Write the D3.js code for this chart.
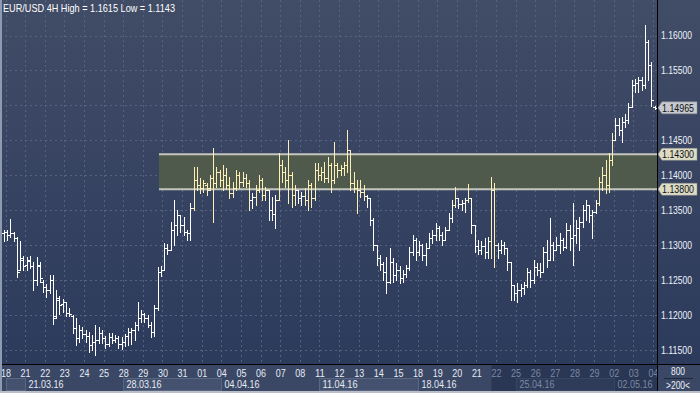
<!DOCTYPE html>
<html>
<head>
<meta charset="utf-8">
<title>EUR/USD 4H</title>
<script src="https://cdn.jsdelivr.net/npm/d3@7"></script>
<style>
  body { margin: 0; background: #2e3b5b; }
  svg { display: block; }
  .lbl { font-family: "Liberation Sans Narrow", "Arial Narrow", "Liberation Sans", Arial, sans-serif; font-size: 11px; }
</style>
</head>
<body>
<div id="chart"></div>
<script>
// EUR/USD 4H bars, 17.03.16 (last bar) .. 04.05.16 (first bar)
var opens = [
  1.1318,1.1319,1.1315,1.1318,1.1310,1.1265,1.1279,1.1272,1.1278,1.1270,
  1.1250,1.1270,1.1248,1.1240,1.1236,1.1250,1.1199,1.1222,1.1216,1.1218,
  1.1203,1.1199,1.1182,1.1167,1.1179,1.1173,1.1170,1.1157,1.1162,1.1165,
  1.1175,1.1167,1.1159,1.1169,1.1165,1.1167,1.1159,1.1162,1.1170,1.1176,
  1.1179,1.1186,1.1196,1.1202,1.1196,1.1186,1.1176,1.1210,1.1262,1.1265,
  1.1296,1.1293,1.1322,1.1329,1.1343,1.1329,1.1319,1.1318,1.1353,1.1393,
  1.1386,1.1382,1.1386,1.1382,1.1396,1.1389,1.1405,1.1393,1.1401,1.1386,
  1.1375,1.1382,1.1401,1.1391,1.1396,1.1389,1.1365,1.1369,1.1379,1.1393,
  1.1372,1.1379,1.1351,1.1345,1.1365,1.1415,1.1405,1.1393,1.1401,1.1372,
  1.1379,1.1368,1.1371,1.1365,1.1386,1.1368,1.1408,1.1401,1.1405,1.1396,
  1.1415,1.1393,1.1415,1.1408,1.1411,1.1415,1.1436,1.1389,1.1382,1.1379,
  1.1376,1.1371,1.1368,1.1336,1.1300,1.1282,1.1273,1.1262,1.1248,1.1276,
  1.1258,1.1265,1.1253,1.1259,1.1268,1.1290,1.1308,1.1290,1.1300,1.1286,
  1.1296,1.1310,1.1315,1.1325,1.1315,1.1308,1.1322,1.1339,1.1358,1.1368,
  1.1359,1.1361,1.1365,1.1368,1.1329,1.1299,1.1293,1.1299,1.1290,1.1306,
  1.1379,1.1300,1.1293,1.1300,1.1296,1.1276,1.1243,1.1232,1.1236,1.1239,
  1.1243,1.1262,1.1250,1.1269,1.1265,1.1262,1.1290,1.1279,1.1300,1.1293,
  1.1300,1.1308,1.1298,1.1322,1.1310,1.1315,1.1325,1.1333,1.1351,1.1358,
  1.1343,1.1348,1.1361,1.1391,1.1401,1.1386,1.1422,1.1451,1.1472,1.1465,
  1.1476,1.1479,1.1497,1.1529,1.1532,1.1537,1.1529,1.1591,1.1558,1.1497
];
var highs = [
  1.1322,1.1322,1.1338,1.1319,1.1312,1.1306,1.1285,1.1283,1.1285,1.1276,
  1.1283,1.1276,1.1250,1.1245,1.1258,1.1258,1.1236,1.1227,1.1223,1.1219,
  1.1210,1.1200,1.1196,1.1186,1.1183,1.1179,1.1176,1.1172,1.1186,1.1183,
  1.1179,1.1170,1.1175,1.1175,1.1172,1.1170,1.1169,1.1173,1.1182,1.1182,
  1.1190,1.1219,1.1207,1.1203,1.1200,1.1190,1.1215,1.1269,1.1270,1.1303,
  1.1302,1.1333,1.1365,1.1351,1.1343,1.1341,1.1322,1.1361,1.1412,1.1412,
  1.1396,1.1393,1.1389,1.1401,1.1439,1.1412,1.1408,1.1414,1.1411,1.1398,
  1.1391,1.1408,1.1405,1.1404,1.1402,1.1393,1.1375,1.1386,1.1401,1.1396,
  1.1383,1.1379,1.1369,1.1372,1.1432,1.1422,1.1412,1.1451,1.1404,1.1386,
  1.1379,1.1376,1.1382,1.1393,1.1389,1.1418,1.1418,1.1412,1.1419,1.1426,
  1.1418,1.1448,1.1418,1.1415,1.1419,1.1465,1.1436,1.1404,1.1393,1.1393,
  1.1386,1.1372,1.1368,1.1339,1.1300,1.1286,1.1276,1.1283,1.1296,1.1282,
  1.1275,1.1270,1.1265,1.1272,1.1298,1.1315,1.1310,1.1306,1.1302,1.1303,
  1.1318,1.1322,1.1332,1.1328,1.1319,1.1326,1.1346,1.1365,1.1383,1.1368,
  1.1365,1.1368,1.1388,1.1368,1.1329,1.1308,1.1306,1.1310,1.1312,1.1398,
  1.1389,1.1303,1.1308,1.1305,1.1296,1.1276,1.1243,1.1246,1.1245,1.1248,
  1.1268,1.1265,1.1279,1.1275,1.1275,1.1298,1.1308,1.1339,1.1305,1.1312,
  1.1318,1.1310,1.1332,1.1329,1.1361,1.1336,1.1341,1.1358,1.1365,1.1358,
  1.1351,1.1365,1.1398,1.1412,1.1422,1.1432,1.1461,1.1482,1.1482,1.1484,
  1.1487,1.1504,1.1537,1.1538,1.1541,1.1541,1.1615,1.1594,1.1562,1.1499
];
var lows = [
  1.1306,1.1308,1.1312,1.1306,1.1255,1.1265,1.1265,1.1265,1.1268,1.1236,
  1.1243,1.1248,1.1233,1.1226,1.1232,1.1187,1.1196,1.1202,1.1205,1.1199,
  1.1199,1.1175,1.1157,1.1162,1.1167,1.1162,1.1147,1.1150,1.1143,1.1160,
  1.1160,1.1153,1.1156,1.1160,1.1162,1.1153,1.1152,1.1156,1.1157,1.1159,
  1.1165,1.1179,1.1190,1.1190,1.1183,1.1169,1.1170,1.1207,1.1256,1.1265,
  1.1288,1.1293,1.1300,1.1315,1.1319,1.1315,1.1308,1.1308,1.1351,1.1379,
  1.1375,1.1376,1.1372,1.1379,1.1333,1.1383,1.1385,1.1379,1.1381,1.1368,
  1.1369,1.1379,1.1382,1.1385,1.1383,1.1351,1.1353,1.1358,1.1376,1.1365,
  1.1365,1.1336,1.1336,1.1325,1.1365,1.1391,1.1383,1.1361,1.1355,1.1358,
  1.1361,1.1358,1.1358,1.1351,1.1355,1.1365,1.1393,1.1393,1.1391,1.1391,
  1.1376,1.1389,1.1398,1.1401,1.1401,1.1405,1.1379,1.1376,1.1346,1.1369,
  1.1365,1.1355,1.1329,1.1293,1.1272,1.1265,1.1250,1.1232,1.1246,1.1248,
  1.1250,1.1246,1.1248,1.1255,1.1265,1.1286,1.1279,1.1286,1.1279,1.1272,
  1.1296,1.1303,1.1308,1.1308,1.1300,1.1308,1.1322,1.1333,1.1355,1.1353,
  1.1351,1.1348,1.1362,1.1318,1.1290,1.1288,1.1288,1.1282,1.1282,1.1282,
  1.1269,1.1282,1.1289,1.1288,1.1265,1.1222,1.1222,1.1218,1.1227,1.1230,
  1.1240,1.1240,1.1246,1.1258,1.1255,1.1262,1.1269,1.1279,1.1279,1.1293,
  1.1289,1.1293,1.1296,1.1293,1.1272,1.1303,1.1293,1.1326,1.1336,1.1333,
  1.1310,1.1346,1.1358,1.1379,1.1375,1.1376,1.1415,1.1451,1.1458,1.1448,
  1.1469,1.1475,1.1497,1.1519,1.1519,1.1522,1.1525,1.1537,1.1499,1.1495
];
var closes = [
  1.1319,1.1315,1.1318,1.1310,1.1262,1.1282,1.1270,1.1279,1.1270,1.1250,
  1.1272,1.1253,1.1240,1.1236,1.1250,1.1196,1.1225,1.1215,1.1218,1.1203,
  1.1202,1.1182,1.1167,1.1179,1.1173,1.1170,1.1157,1.1162,1.1165,1.1175,
  1.1167,1.1159,1.1169,1.1165,1.1167,1.1159,1.1162,1.1170,1.1176,1.1179,
  1.1186,1.1196,1.1202,1.1196,1.1186,1.1176,1.1210,1.1262,1.1265,1.1296,
  1.1293,1.1322,1.1329,1.1343,1.1329,1.1319,1.1318,1.1353,1.1393,1.1386,
  1.1382,1.1389,1.1379,1.1396,1.1389,1.1405,1.1393,1.1401,1.1386,1.1375,
  1.1382,1.1401,1.1391,1.1396,1.1389,1.1365,1.1369,1.1379,1.1393,1.1372,
  1.1379,1.1351,1.1345,1.1365,1.1415,1.1405,1.1393,1.1401,1.1372,1.1379,
  1.1368,1.1371,1.1365,1.1386,1.1368,1.1408,1.1401,1.1405,1.1396,1.1415,
  1.1393,1.1415,1.1408,1.1411,1.1415,1.1436,1.1389,1.1382,1.1379,1.1376,
  1.1371,1.1368,1.1336,1.1300,1.1282,1.1273,1.1262,1.1248,1.1276,1.1258,
  1.1265,1.1253,1.1259,1.1268,1.1290,1.1308,1.1290,1.1300,1.1286,1.1296,
  1.1310,1.1315,1.1325,1.1315,1.1308,1.1322,1.1339,1.1358,1.1368,1.1359,
  1.1361,1.1365,1.1368,1.1329,1.1299,1.1293,1.1299,1.1290,1.1306,1.1379,
  1.1300,1.1293,1.1300,1.1296,1.1276,1.1243,1.1232,1.1236,1.1239,1.1243,
  1.1262,1.1250,1.1269,1.1265,1.1262,1.1290,1.1279,1.1300,1.1293,1.1300,
  1.1308,1.1298,1.1322,1.1310,1.1315,1.1325,1.1333,1.1351,1.1358,1.1343,
  1.1348,1.1361,1.1391,1.1401,1.1386,1.1422,1.1451,1.1472,1.1465,1.1476,
  1.1479,1.1497,1.1529,1.1532,1.1537,1.1529,1.1591,1.1558,1.1508,1.14965
];

var dayLabels = ["18","21","22","23","24","25","28","29","30","31","01",
                 "04","05","06","07","08","11","12","13","14","15",
                 "18","19","20","21","22","25","26","27","28","29","02","03","04"];
var weekLabels = ["", "21.03.16", "28.03.16", "04.04.16", "11.04.16", "18.04.16", "25.04.16", "02.05.16"];
var weekStartDay = [0, 1, 6, 11, 16, 21, 26, 31];   // index into dayLabels
var priceTicks = [1.115, 1.12, 1.125, 1.13, 1.135, 1.14, 1.145, 1.15, 1.155, 1.16];
var zoneHigh = 1.143, zoneLow = 1.138, zoneStartBar = 48;
var lastPrice = 1.14965;

var W = 700, H = 393, plotR = 657, plotB = 364;
var barsPerDay = 6, dimFromDay = 25;

// squeeze a text to the width the terminal's narrow font gives it
function fit(sel, w) {
  sel.attr("textLength", w).attr("lengthAdjust", "spacingAndGlyphs");
}

var svg = d3.select("#chart").append("svg").attr("width", W).attr("height", H);

var grad = svg.append("defs").append("linearGradient").attr("id", "bg")
    .attr("x1", 0).attr("y1", 0).attr("x2", 0).attr("y2", 1);
grad.append("stop").attr("offset", "0%").attr("stop-color", "#414c66");
grad.append("stop").attr("offset", "100%").attr("stop-color", "#2c3a5c");

svg.append("rect").attr("width", W).attr("height", plotB).attr("fill", "url(#bg)");

// one slot per 4H bar, day boundaries every 6 slots
var x = d3.scaleLinear().domain([0, barsPerDay * dayLabels.length])
    .range([5.5, 5.5 + 19.62 * dayLabels.length]);
var y = d3.scaleLinear().domain([1.115, 1.16]).range([350, 35.5]);
function slotOf(i) { return i - 1; }           // first bar belongs to 17.03
function barX(i) { return Math.round(x(slotOf(i) + 0.5)) + 0.5; }
function py(v) { return Math.round(y(v)) + 0.5; }
function dayX(d) { return Math.round(x(d * barsPerDay)) + 0.5; }

// grid
var grid = svg.append("g").attr("stroke", "#56637f").attr("stroke-dasharray", "2,3")
    .attr("shape-rendering", "crispEdges");
grid.selectAll(".hg").data(priceTicks).enter().append("line")
    .attr("x1", 0).attr("x2", plotR).attr("y1", function(d) { return py(d); }).attr("y2", function(d) { return py(d); });
grid.selectAll(".vg").data(d3.range(dayLabels.length)).enter().append("line")
    .attr("x1", dayX).attr("x2", dayX).attr("y1", 0).attr("y2", plotB);

// support/resistance zone
var zx0 = Math.round(x(slotOf(zoneStartBar)));
svg.append("rect").attr("x", zx0).attr("y", y(zoneHigh)).attr("width", plotR - zx0)
    .attr("height", y(zoneLow) - y(zoneHigh)).attr("fill", "#505a4c");
svg.selectAll(".zl").data([zoneHigh, zoneLow]).enter().append("line")
    .attr("x1", zx0).attr("x2", plotR).attr("y1", function(d) { return y(d); }).attr("y2", function(d) { return y(d); })
    .attr("stroke", "#c3c6bc").attr("stroke-width", 2);

// OHLC bars
var bars = d3.range(opens.length);
svg.append("g").selectAll("path").data(bars).enter().append("path")
    .attr("d", function(i) {
      var cx = barX(i);
      return "M" + cx + "," + (Math.round(y(highs[i]))) + "V" + (Math.round(y(lows[i])) + 1) +
             "M" + (cx - 2.5) + "," + py(opens[i]) + "H" + cx +
             "M" + cx + "," + py(closes[i]) + "H" + (cx + 2.5);
    })
    .attr("fill", "none")
    .attr("stroke", function(i) {
      var inZone = i >= zoneStartBar && highs[i] >= zoneLow && lows[i] <= zoneHigh;
      return inZone ? "#fdf0b4" : "#ffffff";
    })
    .attr("stroke-width", 1)
    .attr("shape-rendering", "crispEdges");

// title
svg.append("text").attr("class", "lbl").attr("x", 3).attr("y", 12).attr("fill", "#ffffff")
    .text("EUR/USD 4H High = " + d3.max(highs).toFixed(4) + " Low = " + d3.min(lows).toFixed(4))
    .call(fit, 172);

// bottom axis band
var axisG = svg.append("g");
axisG.append("rect").attr("x", 0).attr("y", plotB).attr("width", W).attr("height", H - plotB).attr("fill", "#3a4765");
axisG.append("rect").attr("x", dayX(dimFromDay) - 5).attr("y", plotB).attr("width", plotR - dayX(dimFromDay) + 5)
    .attr("height", H - plotB).attr("fill", "#293654");

axisG.selectAll(".wk").data(d3.range(weekStartDay.length)).enter().append("rect")
    .filter(function(k) { return k % 2 == 0; })
    .attr("x", function(k) { return dayX(weekStartDay[k]); })
    .attr("y", 378.5)
    .attr("width", function(k) {
      var end = k + 1 < weekStartDay.length ? dayX(weekStartDay[k + 1]) : plotR;
      return end - dayX(weekStartDay[k]);
    })
    .attr("height", 12)
    .attr("fill", function(k) { return weekStartDay[k] >= dimFromDay ? "#2e3b59" : "#45526f"; })
    .attr("stroke", function(k) { return weekStartDay[k] >= dimFromDay ? "#38455f" : "#5a6782"; });

var dayAxis = d3.axisBottom(x)
    .tickValues(d3.range(dayLabels.length).map(function(d) { return d * barsPerDay; }))
    .tickFormat(function(v) { return dayLabels[v / barsPerDay]; })
    .tickSize(0).tickPadding(4);
var dAx = axisG.append("g").attr("transform", "translate(0," + (plotB + 1) + ")").call(dayAxis);
dAx.select(".domain").remove();
dAx.selectAll("text").attr("class", "lbl").style("font-size", "11px")
    .attr("fill", function(v) { return v / barsPerDay >= dimFromDay ? "#7c89a4" : "#e6ebf4"; })
    .call(fit, 10);

axisG.selectAll(".wl").data(d3.range(weekStartDay.length)).enter().append("text")
    .filter(function(k) { return weekLabels[k] != ""; })
    .attr("class", "lbl")
    .attr("x", function(k) { return dayX(weekStartDay[k]) + 3; })
    .attr("y", 388)
    .attr("fill", function(k) { return weekStartDay[k] >= dimFromDay ? "#7c89a4" : "#e6ebf4"; })
    .text(function(k) { return weekLabels[k]; })
    .call(fit, 35);

// right price panel
svg.append("rect").attr("x", plotR).attr("y", 0).attr("width", W - plotR).attr("height", plotB).attr("fill", "url(#bg)");
svg.append("rect").attr("x", plotR).attr("y", plotB).attr("width", W - plotR).attr("height", H - plotB).attr("fill", "#3a4765");

// tick labels hidden behind a price tag are left out, as on the terminal
var tagPrices = [zoneHigh, zoneLow, lastPrice];
var shownTicks = priceTicks.filter(function(t) {
  return tagPrices.every(function(p) { return Math.abs(y(t) - y(p)) > 9; });
});
var yAxis = d3.axisRight(y).tickValues(shownTicks).tickFormat(d3.format(".5f")).tickSize(0).tickPadding(4);
var yAx = svg.append("g").attr("transform", "translate(" + plotR + ",0)").call(yAxis);
yAx.select(".domain").remove();
yAx.selectAll("text").attr("class", "lbl").style("font-size", "10px").attr("fill", "#eef2fa")
    .call(fit, 31);

// price tags
function priceTag(v, fill) {
  var ty = y(v);
  var g = svg.append("g");
  g.append("path")
    .attr("d", "M" + (plotR + 1) + "," + ty + "L" + (plotR + 5) + "," + (ty - 6) + "H697V" + (ty + 6) + "H" + (plotR + 5) + "Z")
    .attr("fill", fill).attr("stroke", "#8c8f88").attr("stroke-width", 0.5);
  g.append("text").attr("class", "lbl").style("font-size", "10px")
    .attr("x", plotR + 5).attr("y", ty + 4).attr("fill", "#101010")
    .text(v.toFixed(5)).call(fit, 32);
}
priceTag(zoneHigh, "#dcdcc6");
priceTag(zoneLow, "#dcdcc6");
priceTag(lastPrice, "#c6cad0");

// bottom right counter
svg.append("text").attr("class", "lbl").attr("x", 678).attr("y", 375).attr("text-anchor", "middle")
    .attr("fill", "#eef2fa").text("800").call(fit, 14);
svg.append("line").attr("x1", 664).attr("x2", 693).attr("y1", 378.5).attr("y2", 378.5).attr("stroke", "#1f2738");
svg.append("text").attr("class", "lbl").attr("x", 678).attr("y", 389).attr("text-anchor", "middle")
    .attr("fill", "#eef2fa").text(">200<").call(fit, 24);

// frame lines
svg.append("line").attr("x1", plotR + 0.5).attr("x2", plotR + 0.5).attr("y1", 0).attr("y2", H).attr("stroke", "#000");
svg.append("line").attr("x1", 0).attr("x2", W).attr("y1", plotB + 0.5).attr("y2", plotB + 0.5).attr("stroke", "#000");
svg.append("rect").attr("x", 0).attr("y", 0).attr("width", 2).attr("height", H).attr("fill", "#8e9ab0");
svg.append("rect").attr("x", 0).attr("y", H - 2).attr("width", W).attr("height", 2).attr("fill", "#b9bec8");
</script>
</body>
</html>
